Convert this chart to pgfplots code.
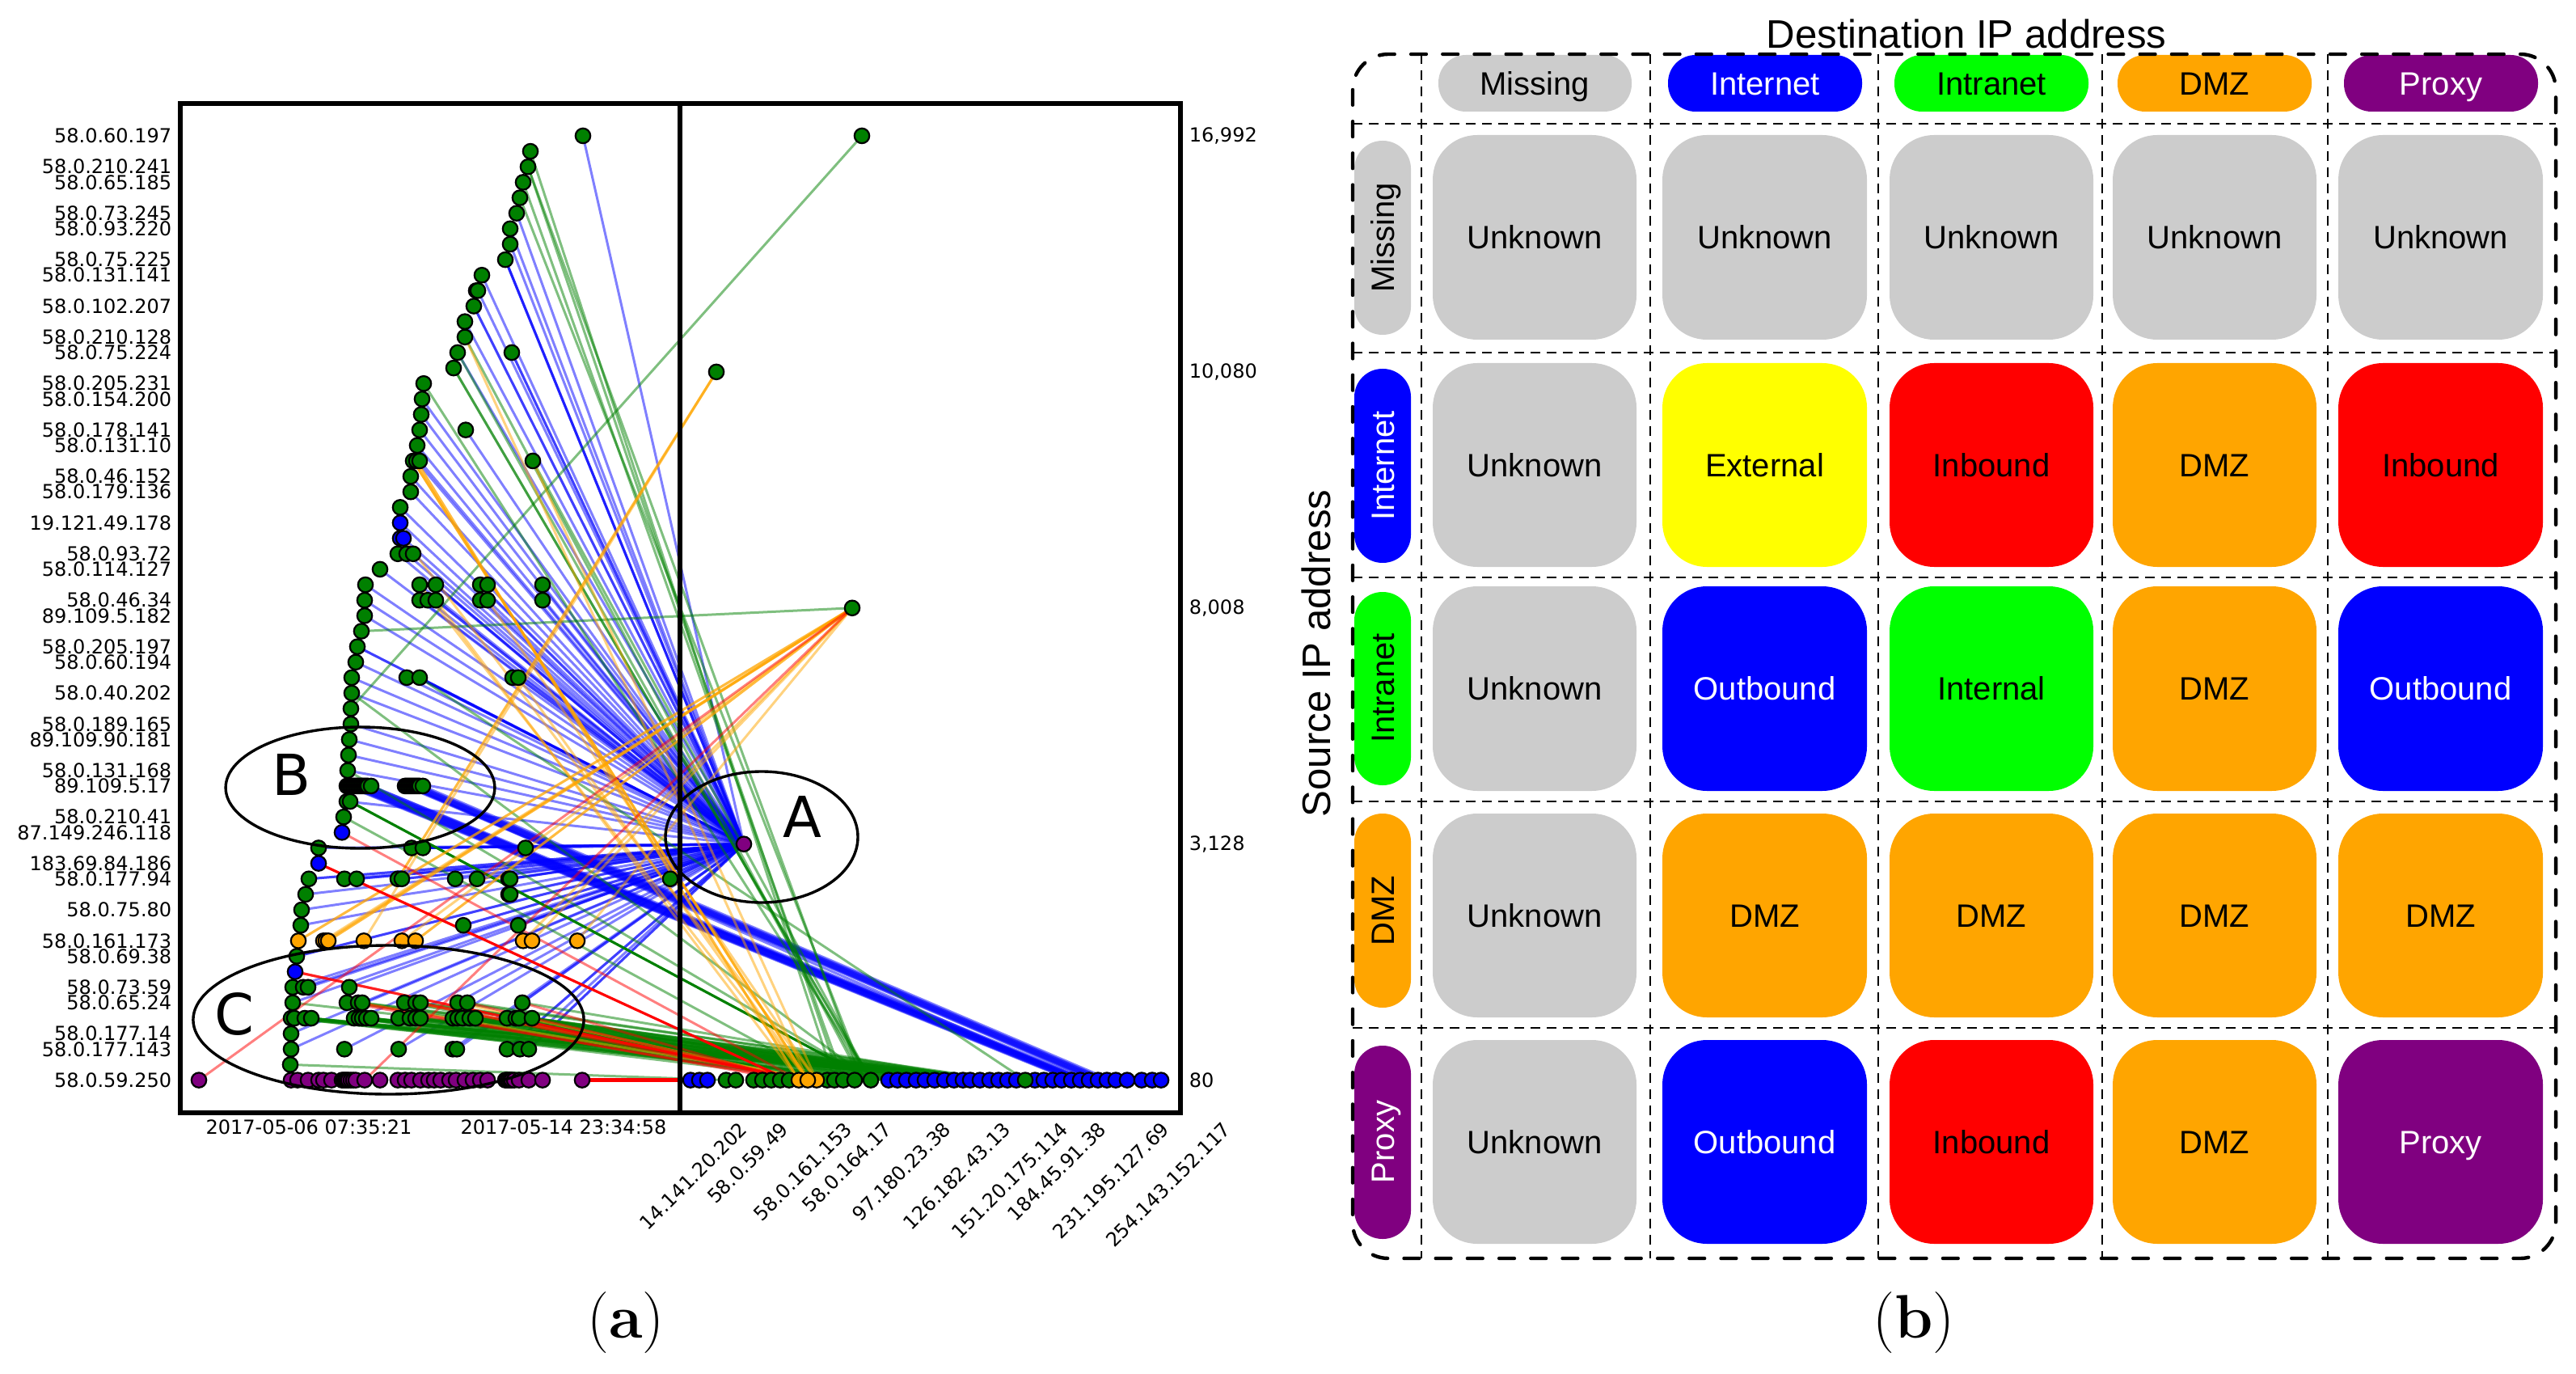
\documentclass[border=0pt]{standalone}
\usepackage{pgfplots}
\pgfplotsset{compat=1.18}
\usepackage{fontspec}
\newfontfamily\dv{DejaVu Sans}
\newfontfamily\hv{Liberation Sans}
\newcommand\tl{\dv\fontsize{6}{7}\selectfont}
\newcommand\bodyf{\hv\fontsize{10}{12}\selectfont}
\definecolor{cgray}{RGB}{204,204,204}
\definecolor{clime}{RGB}{0,255,0}
\definecolor{cblue}{RGB}{0,0,255}
\definecolor{cgreen}{RGB}{0,128,0}
\definecolor{corange}{RGB}{255,165,0}
\definecolor{cpurple}{RGB}{128,0,128}
\definecolor{cred}{RGB}{255,0,0}
\definecolor{cyellow}{RGB}{255,255,0}
\pgfplotsset{
  panel/.style={at={(55.75pt,80.75pt)},anchor=south west,scale only axis,width=309.25pt,height=312pt,
    xmin=223,xmax=1460,ymin=-2.11,ymax=63.09,tick style={draw=none}},
  eb/.style={no markers,line width=.75pt,cblue,opacity=.5,forget plot},
  eg/.style={no markers,line width=.75pt,cgreen,opacity=.5,forget plot},
  eo/.style={no markers,line width=.75pt,corange,opacity=.5,forget plot},
  er/.style={no markers,line width=.75pt,cred,opacity=.5,forget plot},
  pts/.style={only marks,mark=*,mark size=2.3pt,mark options={draw=black,line width=.55pt,fill=#1},forget plot},
}
% edges: source (x,row) to target
\newcommand\A[1]{\addplot[eb] coordinates {(#1)(920,15.25)};}
\newcommand\Bb[2]{\addplot[eb] coordinates {(#1)(#2)};}
\newcommand\G[2]{\addplot[eg] coordinates {(#1)(#2,0)};}
\newcommand\Gt[2]{\addplot[eg] coordinates {(#1)(#2)};}
\newcommand\Ob[2]{\addplot[eo] coordinates {(#1)(#2)};}
\newcommand\Rd[2]{\addplot[er] coordinates {(#1)(#2)};}
% panel (b)
\newcommand\lab[4]{\node[text=#3,font=\bodyf,inner sep=0pt,text height=7.2pt,text depth=0pt] at (axis cs:#1,#2) {#4};}
\newcommand\rlab[4]{\node[text=#3,font=\bodyf,rotate=90,inner sep=0pt,text height=7.2pt,text depth=0pt] at (axis cs:#1,#2) {#4};}
\newcommand\cellT[7]{\fill[#5,rounded corners=13.75pt] (axis cs:#1,#2) rectangle (axis cs:#3,#4);
  \node[text=#6,font=\bodyf,inner sep=0pt,text height=7.2pt,text depth=0pt] at (axis cs:{(#1+#3)/2},{(#2+#4)/2}) {#7};}
\begin{document}
\begin{tikzpicture}
\path[use as bounding box] (0,0) rectangle (796.5pt,424.75pt);
% ---- right-hand numbers
\begin{axis}[panel,axis line style={draw=none},xtick=\empty,
  ytick pos=right,yticklabel pos=right,
  ytick={61,45.75,30.5,15.25,0},
  yticklabels={{16,992},{10,080},{8,008},{3,128},{80}},
  yticklabel style={font=\tl,anchor=west,inner sep=0pt,xshift=2.5pt}]
\addplot[draw=none,forget plot] coordinates {(300,0)(400,1)};
\end{axis}
% ---- rotated destination labels (the last lies beyond the frame)
\begin{axis}[at={(55.75pt,80.75pt)},anchor=south west,scale only axis,width=334.25pt,height=312pt,
  xmin=223,xmax=1560,ymin=-2.11,ymax=63.09,tick style={draw=none},axis line style={draw=none},ytick=\empty,
  xtick pos=bottom,
  xtick={916,967,1046,1095,1168,1242,1313,1360,1438,1514},
  xticklabels={14.141.20.202,58.0.59.49,58.0.161.153,58.0.164.17,97.180.23.38,126.182.43.13,151.20.175.114,184.45.91.38,231.195.127.69,254.143.152.117},
  xticklabel style={font=\tl,rotate=45,anchor=north east,inner sep=0pt,yshift=-1pt,xshift=-2pt}]
\addplot[draw=none,forget plot] coordinates {(300,0)(400,1)};
\end{axis}
% ---- panel (a)
\begin{axis}[panel,axis line style={line width=1.5pt},
  xtick pos=bottom,ytick pos=left,
  xtick={382,697},xticklabels={2017-05-06 07:35:21,2017-05-14 23:34:58},
  xticklabel style={font=\tl,inner sep=0pt,yshift=-2pt},
  ytick={61,59,58,56,55,53,52,50,48,47,45,44,42,41,39,38,36,34,33,31,30,28,27,25,23,22,20,19,17,16,14,13,11,9,8,6,5,3,2,0},
  yticklabels={58.0.60.197,58.0.210.241,58.0.65.185,58.0.73.245,58.0.93.220,58.0.75.225,58.0.131.141,58.0.102.207,58.0.210.128,58.0.75.224,58.0.205.231,58.0.154.200,58.0.178.141,58.0.131.10,58.0.46.152,58.0.179.136,19.121.49.178,58.0.93.72,58.0.114.127,58.0.46.34,89.109.5.182,58.0.205.197,58.0.60.194,58.0.40.202,58.0.189.165,89.109.90.181,58.0.131.168,89.109.5.17,58.0.210.41,87.149.246.118,183.69.84.186,58.0.177.94,58.0.75.80,58.0.161.173,58.0.69.38,58.0.73.59,58.0.65.24,58.0.177.14,58.0.177.143,58.0.59.250},
  yticklabel style={font=\tl,anchor=east,inner sep=0pt,xshift=-2.5pt}]
% blue lines to the proxy point
\A{721,61}\A{639,56}\A{631,55}\A{631,54}\A{625,53}\A{625,53}\A{625,53}\A{596,52}\A{591,51}\A{586,50}\A{586,50}\A{575,49}\A{566,47}\A{633,47}\A{633,47}
\A{522,44}\A{521,43}\A{519,42}\A{576,42}\A{516,41}\A{515,40}\A{519,40}\A{508,39}\A{508,38}\A{495,37}\A{495,36}\A{499,35}\A{492,34}\A{503,34}\A{511,34}\A{470,33}
\A{452,32}\A{519,32}\A{539,32}\A{539,32}\A{594,32}\A{603,32}\A{671,32}\A{451,31}\A{519,31}\A{529,31}\A{539,31}\A{539,31}\A{594,31}\A{603,31}\A{671,31}\A{451,30}
\A{442,28}\A{442,28}\A{440,27}\A{435,26}\A{503,26}\A{519,26}\A{519,26}\A{519,26}\A{634,26}\A{641,26}\A{641,26}\A{435,25}\A{434,23}\A{432,22}\A{431,21}\A{430,20}
\A{429,18}\A{394,15}\A{509,15}\A{523,15}\A{523,15}\A{523,15}\A{650,15}
\A{382,13}\A{382,13}\A{426,13}\A{441,13}\A{441,13}\A{497,13}\A{497,13}\A{563,13}\A{590,13}\A{590,13}\A{629,13}\A{631,13}\A{829,13}\A{829,13}
\A{378,12}\A{629,12}\A{631,12}\A{373,11}\A{372,10}\A{573,10}\A{573,10}\A{641,10}\A{641,10}\A{367,8}\A{367,8}\A{362,6}\A{375,6}\A{381,6}\A{432,6}
\A{362,5}\A{448,5}\A{566,5}\A{646,5}\A{360,3}\A{360,2}\A{426,2}\A{493,2}\A{560,2}\A{565,2}\A{627,2}\A{643,2}\A{654,2}\A{627,2}\A{654,2}
% blue bundles from the two dense runs on row 19, ending along the row-0 points
\Bb{429,19}{1325,0}\Bb{431,19}{1327,0}\Bb{433,19}{1328,0}\Bb{435,19}{1330,0}\Bb{437,19}{1331,0}\Bb{439,19}{1333,0}\Bb{441,19}{1334,0}\Bb{443,19}{1336,0}\Bb{445,19}{1337,0}\Bb{447,19}{1338,0}\Bb{449,19}{1340,0}\Bb{451,19}{1341,0}\Bb{453,19}{1342,0}\Bb{455,19}{1344,0}\Bb{459,19}{1347,0}
\Bb{501,19}{1352,0}\Bb{503,19}{1354,0}\Bb{505,19}{1356,0}\Bb{507,19}{1358,0}\Bb{509,19}{1360,0}\Bb{511,19}{1362,0}\Bb{513,19}{1364,0}\Bb{515,19}{1366,0}\Bb{517,19}{1368,0}\Bb{519,19}{1370,0}\Bb{523,19}{1374,0}
\Bb{505,19}{1336,0}\Bb{459,19}{1333,0}
% green lines
\G{656,60}{1032}\G{653,59}{1039}\G{653,59}{1066}\G{647,58}{1043}\G{643,57}{1070}\G{575,48}{1066}\G{566,47}{1070}
\G{561,46}{1077}\G{561,46}{1077}\G{659,40}{1077}\G{524,45}{1077}\G{519,26}{1268}\G{435,25}{1077}\G{430,20}{1077}\G{425,17}{1023}\G{359,1}{898}
\addplot[no markers,line width=.8pt,cgreen,forget plot] coordinates {(433,18)(1077,0)};
\Gt{434,24}{1066,61}\Gt{447,29}{1054,30.5}
% the wide green wedge
\G{360,4}{1200}\G{364,4}{1200}\G{377,4}{1200}\G{385,4}{1200}\G{385,4}{1190}\G{438,4}{1200}\G{444,4}{1190}\G{448,4}{1200}\G{453,4}{1180}\G{459,4}{1200}\G{493,4}{1200}\G{507,4}{1190}\G{514,4}{1200}\G{520,4}{1180}\G{560,4}{1200}\G{566,4}{1190}\G{572,4}{1200}\G{581,4}{1180}\G{588,4}{1200}\G{627,4}{1190}\G{638,4}{1200}\G{642,4}{1180}\G{658,4}{1200}
\G{360,4}{1100}\G{377,4}{1110}\G{385,4}{1120}\G{438,4}{1130}\G{448,4}{1140}\G{459,4}{1150}\G{493,4}{1160}\G{514,4}{1170}\G{560,4}{1100}\G{572,4}{1110}\G{588,4}{1120}\G{627,4}{1130}\G{658,4}{1140}
\G{429,5}{1220}\G{443,5}{1230}\G{448,5}{1240}\G{500,5}{1220}\G{514,5}{1235}\G{520,5}{1225}\G{566,5}{1240}\G{578,5}{1230}\G{646,5}{1220}\G{362,5}{1200}
\G{438,4}{1210}\G{459,4}{1215}\G{493,4}{1220}\G{520,4}{1210}\G{560,4}{1215}\G{588,4}{1220}\G{627,4}{1210}\G{658,4}{1220}
\G{360,4}{1077}\G{385,4}{1057}\G{438,4}{1090}\G{459,4}{1077}\G{500,5}{1043}\G{443,5}{1043}\G{385,4}{1023}\G{438,4}{1032}\G{459,4}{1023}
% orange lines
\Ob{511,40}{999,0}\Ob{511,40}{999,0}\Ob{511,40}{999,0}\Ob{515,40}{988,0}\Ob{515,40}{988,0}\Ob{575,48}{999,0}\Ob{659,40}{1010,0}\Ob{499,35}{1010,0}\Ob{519,32}{999,0}\Ob{539,31}{988,0}\Ob{603,31}{1010,0}\Ob{641,26}{999,0}
\Ob{492,13}{886,45.75}\Ob{492,13}{886,45.75}\Ob{450,9}{886,45.75}
\Ob{369,9}{1054,30.5}\Ob{369,9}{1054,30.5}\Ob{400,9}{1054,30.5}\Ob{403,9}{1054,30.5}\Ob{406,9}{1054,30.5}\Ob{406,9}{1054,30.5}\Ob{497,9}{1054,30.5}\Ob{514,9}{1054,30.5}\Ob{514,9}{1054,30.5}\Ob{647,9}{1054,30.5}\Ob{658,9}{1054,30.5}\Ob{714,9}{1054,30.5}
\Ob{443,5}{1010,0}\Ob{514,5}{1010,0}\Ob{566,5}{999,0}
% red lines
\Rd{246,0}{1054,30.5}\Rd{451,0}{1054,30.5}\Rd{423,16}{988,0}
\Rd{365,7}{988,0}\Rd{365,7}{988,0}\Rd{365,7}{988,0}
\Rd{429,5}{988,0}\Rd{514,5}{988,0}\Rd{520,5}{999,0}\Rd{578,5}{988,0}\Rd{646,5}{976,0}\Rd{443,5}{976,0}
\addplot[no markers,line width=.8pt,cred,forget plot] coordinates {(394,14)(976,0)};
\addplot[no markers,line width=1.2pt,cred,forget plot] coordinates {(720,0)(854,0)};
% centre rule
\addplot[no markers,line width=1.3pt,black,forget plot] coordinates {(841,-2.11)(841,63.09)};
% points: left axis, green
\addplot[pts=cgreen] table {
721 61
656 60
653 59
647 58
643 57
639 56
631 55
631 54
625 53
596 52
589 51
591 51
586 50
575 49
575 48
566 47
633 47
561 46
524 45
522 44
521 43
519 42
576 42
516 41
511 40
515 40
519 40
659 40
508 39
508 38
495 37
492 34
503 34
511 34
470 33
452 32
519 32
539 32
594 32
603 32
671 32
451 31
519 31
529 31
539 31
594 31
603 31
671 31
451 30
447 29
442 28
440 27
435 26
503 26
519 26
634 26
641 26
435 25
434 24
434 23
432 22
431 21
430 20
429 18
433 18
425 17
429 19
431 19
433 19
435 19
437 19
439 19
441 19
443 19
445 19
447 19
449 19
451 19
453 19
455 19
459 19
501 19
503 19
505 19
507 19
509 19
511 19
513 19
515 19
517 19
519 19
523 19
394 15
509 15
523 15
650 15
382 13
426 13
441 13
492 13
497 13
563 13
590 13
629 13
631 13
829 13
378 12
629 12
631 12
373 11
372 10
573 10
641 10
367 8
362 6
375 6
381 6
432 6
362 5
429 5
443 5
448 5
500 5
514 5
520 5
566 5
578 5
646 5
360 4
364 4
377 4
385 4
438 4
444 4
448 4
453 4
459 4
493 4
507 4
514 4
520 4
560 4
566 4
572 4
581 4
588 4
627 4
638 4
642 4
658 4
360 3
360 2
426 2
493 2
560 2
565 2
627 2
643 2
654 2
359 1
};
% left axis, blue
\addplot[pts=cblue] table {
495 36
495 35
499 35
423 16
394 14
365 7
};
% left axis, orange
\addplot[pts=corange] table {
369 9
400 9
403 9
406 9
450 9
497 9
514 9
647 9
658 9
714 9
};
% left axis, purple
\addplot[pts=cpurple] table {
246 0
360 0
368 0
381 0
394 0
400 0
410 0
423 0
425 0
427 0
429 0
431 0
434 0
437 0
440 0
451 0
470 0
492 0
501 0
509 0
520 0
530 0
537 0
545 0
556 0
564 0
575 0
585 0
594 0
603 0
625 0
627 0
629 0
631 0
633 0
636 0
642 0
654 0
671 0
720 0
};
% right axis, blue
\addplot[pts=cblue] table {
854 0
865 0
875 0
1099 0
1110 0
1121 0
1133 0
1144 0
1156 0
1168 0
1180 0
1191 0
1200 0
1212 0
1224 0
1235 0
1246 0
1257 0
1280 0
1291 0
1302 0
1313 0
1325 0
1336 0
1347 0
1358 0
1369 0
1380 0
1394 0
1412 0
1425 0
1436 0
};
% right axis, green
\addplot[pts=cgreen] table {
1066 61
886 45.75
1054 30.5
898 0
910 0
932 0
943 0
954 0
965 0
976 0
1023 0
1032 0
1043 0
1057 0
1077 0
1268 0
};
% right axis, orange
\addplot[pts=corange] table {
988 0
1010 0
999 0
};
% right axis, purple
\addplot[pts=cpurple] table {
920 15.25
};
\end{axis}
% ---- overlay in image pixels: ellipses, panel (b), captions
\begin{axis}[at={(0pt,0pt)},anchor=south west,scale only axis,width=796.5pt,height=424.75pt,
  xmin=0,xmax=3186,ymin=0,ymax=1699,y dir=reverse,hide axis,clip=false]
\addplot[draw=none,forget plot] coordinates {(0,0)(3186,1699)};
\draw[line width=.85pt] (axis cs:445.5,974) ellipse [x radius=41.6pt,y radius=18.75pt];
\draw[line width=.85pt] (axis cs:480.5,1261) ellipse [x radius=60.4pt,y radius=23pt];
\draw[line width=.85pt] (axis cs:942,1035) ellipse [x radius=29.75pt,y radius=20.25pt];
\node[font=\dv\fontsize{17.5}{20}\selectfont,inner sep=0pt] at (axis cs:992,1010) {A};
\node[font=\dv\fontsize{17.5}{20}\selectfont,inner sep=0pt] at (axis cs:361,958) {B};
\node[font=\dv\fontsize{17.5}{20}\selectfont,inner sep=0pt] at (axis cs:290,1254) {C};
% header pills
\fill[cgray,rounded corners=8.5pt] (axis cs:1779,68) rectangle (axis cs:2018,138);
\fill[cblue,rounded corners=8.5pt] (axis cs:2063,68) rectangle (axis cs:2303,138);
\fill[clime,rounded corners=8.5pt] (axis cs:2343,68) rectangle (axis cs:2583,138);
\fill[corange,rounded corners=8.5pt] (axis cs:2619,68) rectangle (axis cs:2859,138);
\fill[cpurple,rounded corners=8.5pt] (axis cs:2899,68) rectangle (axis cs:3139,138);
\lab{1898}{103}{black}{Missing}
\lab{2183}{103}{white}{Internet}
\lab{2463}{103}{black}{Intranet}
\lab{2739}{103}{black}{DMZ}
\lab{3019}{103}{white}{Proxy}
% row pills
\fill[cgray,rounded corners=8.7pt] (axis cs:1675,174) rectangle (axis cs:1745,414);
\fill[cblue,rounded corners=8.7pt] (axis cs:1675,456) rectangle (axis cs:1745,696);
\fill[clime,rounded corners=8.7pt] (axis cs:1675,732) rectangle (axis cs:1745,971);
\fill[corange,rounded corners=8.7pt] (axis cs:1675,1006) rectangle (axis cs:1745,1246);
\fill[cpurple,rounded corners=8.7pt] (axis cs:1675,1293) rectangle (axis cs:1745,1532);
\rlab{1710}{294}{black}{Missing}
\rlab{1710}{576}{white}{Internet}
\rlab{1710}{851}{black}{Intranet}
\rlab{1710}{1126}{black}{DMZ}
\rlab{1710}{1412}{white}{Proxy}
% cells
\cellT{1772}{167}{2024}{420}{cgray}{black}{Unknown}
\cellT{2056}{167}{2309}{420}{cgray}{black}{Unknown}
\cellT{2337}{167}{2589}{420}{cgray}{black}{Unknown}
\cellT{2613}{167}{2865}{420}{cgray}{black}{Unknown}
\cellT{2892}{167}{3145}{420}{cgray}{black}{Unknown}
\cellT{1772}{449}{2024}{701}{cgray}{black}{Unknown}
\cellT{2056}{449}{2309}{701}{cyellow}{black}{External}
\cellT{2337}{449}{2589}{701}{cred}{black}{Inbound}
\cellT{2613}{449}{2865}{701}{corange}{black}{DMZ}
\cellT{2892}{449}{3145}{701}{cred}{black}{Inbound}
\cellT{1772}{725}{2024}{978}{cgray}{black}{Unknown}
\cellT{2056}{725}{2309}{978}{cblue}{white}{Outbound}
\cellT{2337}{725}{2589}{978}{clime}{black}{Internal}
\cellT{2613}{725}{2865}{978}{corange}{black}{DMZ}
\cellT{2892}{725}{3145}{978}{cblue}{white}{Outbound}
\cellT{1772}{1006}{2024}{1258}{cgray}{black}{Unknown}
\cellT{2056}{1006}{2309}{1258}{corange}{black}{DMZ}
\cellT{2337}{1006}{2589}{1258}{corange}{black}{DMZ}
\cellT{2613}{1006}{2865}{1258}{corange}{black}{DMZ}
\cellT{2892}{1006}{3145}{1258}{corange}{black}{DMZ}
\cellT{1772}{1286}{2024}{1538}{cgray}{black}{Unknown}
\cellT{2056}{1286}{2309}{1538}{cblue}{white}{Outbound}
\cellT{2337}{1286}{2589}{1538}{cred}{black}{Inbound}
\cellT{2613}{1286}{2865}{1538}{corange}{black}{DMZ}
\cellT{2892}{1286}{3145}{1538}{cpurple}{white}{Proxy}
% grid
\draw[line width=.5pt,dash pattern=on 3pt off 2pt] (axis cs:1758,67) -- (axis cs:1758,1556);
\draw[line width=.5pt,dash pattern=on 3pt off 2pt] (axis cs:2041,67) -- (axis cs:2041,1556);
\draw[line width=.5pt,dash pattern=on 3pt off 2pt] (axis cs:2323,67) -- (axis cs:2323,1556);
\draw[line width=.5pt,dash pattern=on 3pt off 2pt] (axis cs:2600,67) -- (axis cs:2600,1556);
\draw[line width=.5pt,dash pattern=on 3pt off 2pt] (axis cs:2879,67) -- (axis cs:2879,1556);
\draw[line width=.5pt,dash pattern=on 3pt off 2pt] (axis cs:1673,153) -- (axis cs:3161,153);
\draw[line width=.5pt,dash pattern=on 3pt off 2pt] (axis cs:1673,436) -- (axis cs:3161,436);
\draw[line width=.5pt,dash pattern=on 3pt off 2pt] (axis cs:1673,714) -- (axis cs:3161,714);
\draw[line width=.5pt,dash pattern=on 3pt off 2pt] (axis cs:1673,991) -- (axis cs:3161,991);
\draw[line width=.5pt,dash pattern=on 3pt off 2pt] (axis cs:1673,1271) -- (axis cs:3161,1271);
\draw[line width=1.1pt,line cap=round,dash pattern=on 4.7pt off 5.1pt,rounded corners=11pt] (axis cs:1673,67) rectangle (axis cs:3161,1556);
% titles
\node[font=\hv\fontsize{12.3}{14}\selectfont,inner sep=0pt] at (axis cs:2432,42) {Destination IP address};
\node[font=\hv\fontsize{12.3}{14}\selectfont,inner sep=0pt,rotate=90] at (axis cs:1628,808) {Source IP address};
\node[font=\fontsize{19}{21}\selectfont,inner sep=0pt] at (axis cs:774,1636) {(\textbf{a})};
\node[font=\fontsize{19}{21}\selectfont,inner sep=0pt] at (axis cs:2367,1636) {(\textbf{b})};
\end{axis}
\end{tikzpicture}
\end{document}
